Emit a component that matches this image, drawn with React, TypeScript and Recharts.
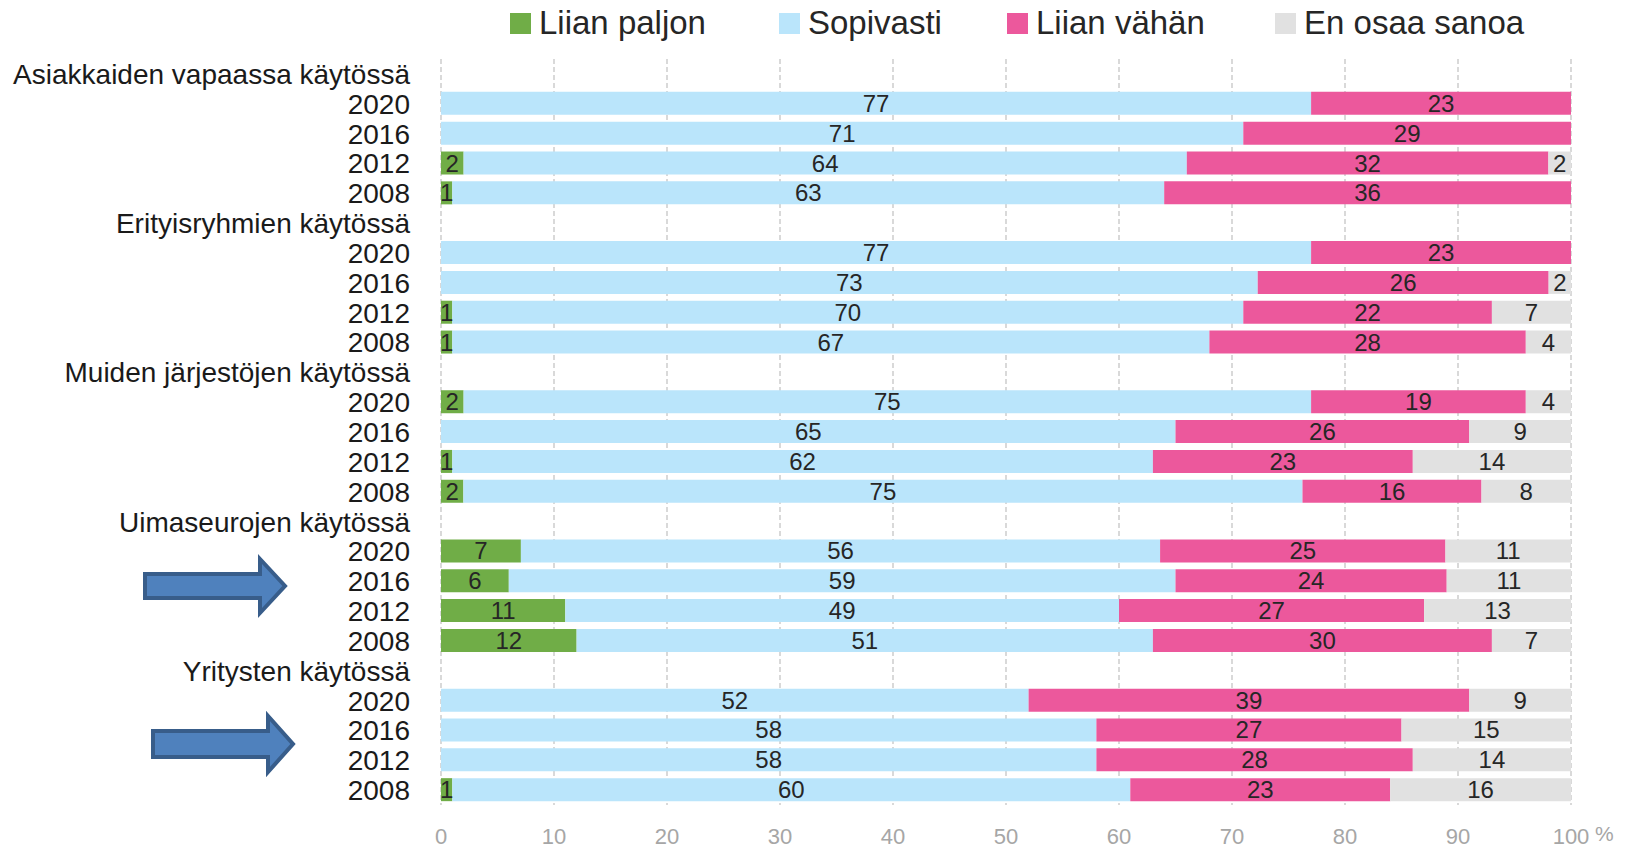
import React from "react";
import { BarChart, Bar, XAxis, YAxis, CartesianGrid, LabelList } from "recharts";

const groups = [
  "Asiakkaiden vapaassa käytössä",
  "Erityisryhmien käytössä",
  "Muiden järjestöjen käytössä",
  "Uimaseurojen käytössä",
  "Yritysten käytössä",
];
const years = ["2020", "2016", "2012", "2008"];

// values per group (group-major), years 2020, 2016, 2012, 2008
const liianPaljon = [null, null, 2, 1, null, null, 1, 1, 2, null, 1, 2, 7, 6, 11, 12, null, null, null, 1];
const sopivasti = [77, 71, 64, 63, 77, 73, 70, 67, 75, 65, 62, 75, 56, 59, 49, 51, 52, 58, 58, 60];
const liianVahan = [23, 29, 32, 36, 23, 26, 22, 28, 19, 26, 23, 16, 25, 24, 27, 30, 39, 27, 28, 23];
const enOsaa = [null, null, 2, null, null, 2, 7, 4, 4, 9, 14, 8, 11, 11, 13, 7, 9, 15, 14, 16];

const xTicks = [0, 0.1, 0.2, 0.3, 0.4, 0.5, 0.6, 0.7, 0.8, 0.9, 1];

const seriesNames = ["Liian paljon", "Sopivasti", "Liian vähän", "En osaa sanoa"];
const colors = ["#70AD47", "#BAE5FB", "#EC589C", "#E1E1E1"];

type Row = { id: string; label: string; lp?: number | null; so?: number | null; lv?: number | null; eo?: number | null };

const data: Row[] = [];
groups.forEach((g, gi) => {
  data.push({ id: `h${gi}`, label: g });
  years.forEach((y, yi) => {
    const k = gi * 4 + yi;
    data.push({
      id: `r${gi}-${y}`,
      label: y,
      lp: liianPaljon[k],
      so: sopivasti[k],
      lv: liianVahan[k],
      eo: enOsaa[k],
    });
  });
});

const FONT = "'Liberation Sans', Arial, sans-serif";

const YTick = (props: any) => {
  const { x, y, payload, index } = props;
  const row = data[index] || data.find((d) => d.id === payload.value);
  return (
    <text x={x - 31} y={y + 10} textAnchor="end" fontFamily={FONT} fontSize={28} fill="#1a1a1a">
      {row ? row.label : ""}
    </text>
  );
};

const XTick = (props: any) => {
  const { x, y, payload } = props;
  const v = Math.round(payload.value * 100);
  return (
    <g>
      <text x={x} y={y + 39} textAnchor="middle" fontFamily={FONT} fontSize={22} fill="#a6a6a6">
        {v}
      </text>
      {v === 100 ? (
        <text x={x + 24} y={y + 36} textAnchor="start" fontFamily={FONT} fontSize={21} fill="#a6a6a6">
          %
        </text>
      ) : null}
    </g>
  );
};

const BarLabel = (props: any) => {
  const { x, y, width, height, value } = props;
  if (value === null || value === undefined || value === 0) return null;
  return (
    <text
      x={x + width / 2}
      y={y + height / 2 + 8.5}
      textAnchor="middle"
      fontFamily={FONT}
      fontSize={24}
      fill="#262626"
    >
      {value}
    </text>
  );
};

const legendLefts = [510, 779, 1007, 1275];

const LegendBlock = () => (
  <div style={{ position: "absolute", left: 0, top: 0, width: 1628, height: 50 }}>
    {seriesNames.map((n, i) => (
      <div key={n} style={{ position: "absolute", left: legendLefts[i], top: 0, height: 50 }}>
        <div
          style={{ position: "absolute", left: 0, top: 13, width: 21, height: 21, background: colors[i] }}
        />
        <div
          style={{
            position: "absolute",
            left: 29,
            top: 3,
            fontFamily: FONT,
            fontSize: 33,
            lineHeight: "40px",
            color: "#262626",
            whiteSpace: "nowrap",
          }}
        >
          {n}
        </div>
      </div>
    ))}
  </div>
);

const arrowPath = (bl: number, bt: number, bb: number, hx: number, ht: number, hb: number, tip: number) => {
  const cy = (bt + bb) / 2;
  return `M${bl},${bt} L${hx},${bt} L${hx},${ht} L${tip},${cy} L${hx},${hb} L${hx},${bb} L${bl},${bb} Z`;
};

export default function App() {
  return (
    <div style={{ position: "absolute", left: 0, top: 0, width: 1628, height: 850, background: "#fff" }}>
      <BarChart
        width={1628}
        height={850}
        data={data}
        layout="vertical"
        stackOffset="expand"
        margin={{ top: 59, right: 57, bottom: 0, left: 0 }}
        barSize={23}
      >
        <CartesianGrid horizontal={false} vertical={true} stroke="#b3b3b3" strokeDasharray="5 3" />
        <XAxis
          type="number"
          domain={[0, 1]}
          ticks={xTicks}
          axisLine={false}
          tickLine={false}
          tickSize={0}
          tickMargin={0}
          height={45}
          tick={<XTick />}
          interval={0}
        />
        <YAxis
          type="category"
          dataKey="id"
          width={441}
          axisLine={false}
          tickLine={false}
          tickSize={0}
          tickMargin={0}
          interval={0}
          tick={<YTick />}
        />
        <Bar dataKey="lp" name={seriesNames[0]} stackId="a" fill={colors[0]} isAnimationActive={false}>
          <LabelList dataKey="lp" content={<BarLabel />} />
        </Bar>
        <Bar dataKey="so" name={seriesNames[1]} stackId="a" fill={colors[1]} isAnimationActive={false}>
          <LabelList dataKey="so" content={<BarLabel />} />
        </Bar>
        <Bar dataKey="lv" name={seriesNames[2]} stackId="a" fill={colors[2]} isAnimationActive={false}>
          <LabelList dataKey="lv" content={<BarLabel />} />
        </Bar>
        <Bar dataKey="eo" name={seriesNames[3]} stackId="a" fill={colors[3]} isAnimationActive={false}>
          <LabelList dataKey="eo" content={<BarLabel />} />
        </Bar>
      </BarChart>
      <LegendBlock />
      <svg
        width={1628}
        height={850}
        style={{ position: "absolute", left: 0, top: 0, pointerEvents: "none" }}
      >
        <path d={arrowPath(145, 574, 598, 260, 559, 613, 285)} fill="#4F81BD" stroke="#385D8A" strokeWidth={4} />
        <path d={arrowPath(153, 731, 757, 268, 716, 772, 293)} fill="#4F81BD" stroke="#385D8A" strokeWidth={4} />
      </svg>
    </div>
  );
}
